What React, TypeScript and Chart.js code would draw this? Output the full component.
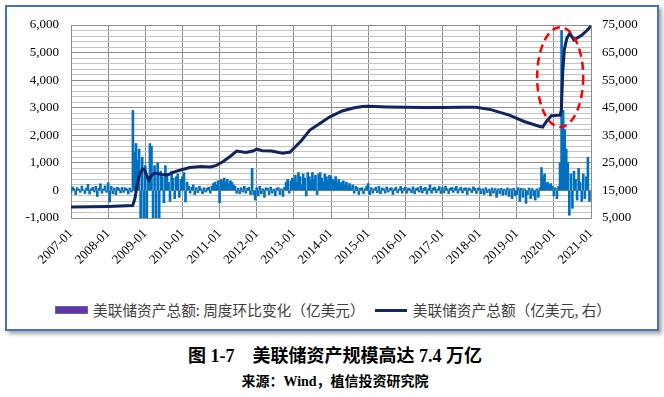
import React, { useEffect, useRef } from 'react';
import { Chart, registerables } from 'chart.js';

Chart.register(...registerables);

// ---- Data ----
const xTickLabels = ['2007-01', '2008-01', '2009-01', '2010-01', '2011-01', '2012-01', '2013-01', '2014-01', '2015-01', '2016-01', '2017-01', '2018-01', '2019-01', '2020-01', '2021-01'];
const startYear = 2007;
const periodsPerYear = 24; // half-month sampling of the weekly change bars

// Weekly change of Fed total assets (亿美元), read per half month
const bars2007 = [-90, 130, 60, -150, 100, 40, -70, 160, 30, -110, 90, 220, -130, 60, 110, -60, 150, -220, 80, 240, -100, 60, 170, -70];
const bars2008 = [280, -420, 150, -120, 90, -160, 120, 70, -90, 110, -70, 100, 60, -130, 90, -60, 2900, 1400, 1700, 1100, 1500, -1000, 1200, -1000];
const bars2009 = [900, -1000, 500, 1700, 1600, -1000, 900, -1000, 1000, -1000, 700, 500, -450, 900, 600, 300, -400, 700, 450, -300, 500, 600, -250, 400];
const bars2010 = [500, 650, -420, 300, 150, -100, 120, 200, -150, 100, -80, 150, 60, -120, 100, -60, 80, 120, -100, 150, 250, 300, 200, 350];
const bars2011 = [-450, 400, 350, 450, 300, 400, 250, 350, 300, 200, 150, -100, 80, -120, 100, -60, 150, -100, 80, 120, -150, 800, -150, -350];
const bars2012 = [100, -200, 150, -120, 60, -250, 100, 80, -150, 120, -100, 50, -200, 80, 100, -150, 60, -220, 120, 300, 400, -100, 350, 450];
const bars2013 = [400, 550, 300, 650, 500, 200, 600, 450, -200, 650, 500, 350, 650, 400, 550, -150, 600, 650, 450, 300, 600, 500, 400, 550];
const bars2014 = [500, 400, 350, 500, 300, 400, 250, 300, 350, 200, 300, 150, 250, 100, 200, -100, 150, 100, -150, 80, 100, -120, 60, 150];
const bars2015 = [250, -150, 100, -100, 60, 120, -80, 150, -120, 90, 60, -100, 130, -60, 80, 100, -150, 60, 120, -90, 50, 150, -100, 80];
const bars2016 = [120, -100, 90, 60, -80, 130, -120, 70, 100, -60, 150, -90, 80, 110, -130, 60, 200, -100, 90, 120, -80, 60, 140, -110];
const bars2017 = [100, -90, 150, 60, -120, 80, 110, -70, 90, 150, -100, 60, 120, -90, 70, 100, -150, 90, 60, -80, 130, 70, -110, 90];
const bars2018 = [80, -120, 60, -150, 100, -80, 50, -200, 90, -100, 70, -250, 60, -120, 80, -180, 50, -150, 90, -220, 60, -300, 80, -200];
const bars2019 = [-150, 100, -400, 80, -250, 60, -470, -150, 90, -300, 70, -200, -350, 60, -250, 100, 830, 500, 600, 250, 300, 200, 250, 150];
const bars2020 = [-200, 100, -300, 150, 1000, 5800, 2900, 2200, 1500, 1000, -900, 600, -650, 700, 400, -350, 800, 300, -400, 600, -300, 500, 1200, -400];

// Fed total assets (亿美元, right axis)
const lineDates = [2007.0, 2007.5, 2008.0, 2008.5, 2008.66, 2008.72, 2008.78, 2008.85, 2008.93, 2008.98, 2009.05, 2009.1, 2009.17, 2009.25, 2009.45, 2009.6, 2009.8, 2010.0, 2010.2, 2010.5, 2010.75, 2010.9, 2011.1, 2011.3, 2011.46, 2011.7, 2011.9, 2012.0, 2012.15, 2012.4, 2012.7, 2012.9, 2013.0, 2013.2, 2013.43, 2013.7, 2013.96, 2014.3, 2014.6, 2014.85, 2015.0, 2015.5, 2016.0, 2016.5, 2017.0, 2017.5, 2017.9, 2018.3, 2018.8, 2019.2, 2019.6, 2019.7, 2019.8, 2019.93, 2020.17, 2020.2, 2020.24, 2020.28, 2020.35, 2020.43, 2020.54, 2020.75, 2020.89, 2021.0];
const lineValues = [9000, 9100, 9200, 9400, 9500, 12000, 17000, 21000, 22800, 22500, 20000, 18800, 20500, 21300, 20800, 20600, 21800, 22600, 23300, 23700, 23500, 24000, 25500, 27500, 29300, 28800, 29300, 30000, 29400, 29300, 28500, 28900, 30300, 33000, 36900, 39300, 41600, 43800, 44900, 45400, 45500, 45300, 45200, 45100, 45100, 45200, 45200, 44300, 42300, 40000, 38300, 38000, 40000, 42100, 42300, 44000, 58000, 66000, 70200, 72000, 69600, 71300, 73000, 74600];

const barLabel = '美联储资产总额: 周度环比变化（亿美元）';
const lineLabel = '美联储资产总额（亿美元, 右）';

// Callout ellipse in data units (x: year, y: right axis)
const calloutX = 2020.17;
const calloutY = 56100;
const calloutRX = 0.62;
const calloutRY = 18100;

const allBars = [
  ...bars2007, ...bars2008, ...bars2009, ...bars2010, ...bars2011, ...bars2012, ...bars2013,
  ...bars2014, ...bars2015, ...bars2016, ...bars2017, ...bars2018, ...bars2019, ...bars2020,
];

const ellipsePlugin = {
  id: 'calloutEllipse',
  afterDatasetsDraw(chart: any) {
    const { ctx, scales } = chart;
    const x = scales.x;
    const y1 = scales.y1;
    const cx = x.getPixelForValue(calloutX);
    const cy = y1.getPixelForValue(calloutY);
    const rx = Math.abs(x.getPixelForValue(calloutX + calloutRX) - cx);
    const ry = Math.abs(y1.getPixelForValue(calloutY + calloutRY) - cy);
    ctx.save();
    ctx.strokeStyle = '#FF0000';
    ctx.lineWidth = 2.5;
    ctx.setLineDash([8, 5]);
    ctx.beginPath();
    ctx.ellipse(cx, cy, rx, ry, 0, 0, Math.PI * 2);
    ctx.stroke();
    ctx.restore();
  },
};

const tickFont = { family: '"Liberation Serif", "Times New Roman", serif', size: 13 };

export default function App() {
  const ref = useRef<HTMLCanvasElement>(null);

  useEffect(() => {
    const barPts = allBars.map((v, i) => ({ x: startYear + i / periodsPerYear, y: v }));
    const linePts = lineDates.map((d, i) => ({ x: d, y: lineValues[i] }));
    const chart = new Chart(ref.current as HTMLCanvasElement, {
      type: 'bar',
      data: {
        datasets: [
          {
            type: 'line',
            label: lineLabel,
            data: linePts,
            yAxisID: 'y1',
            borderColor: '#0f2460',
            backgroundColor: '#0f2460',
            borderWidth: 3,
            pointRadius: 0,
            tension: 0,
            order: 0,
          } as any,
          {
            type: 'bar',
            label: barLabel,
            data: barPts,
            yAxisID: 'y',
            backgroundColor: '#0070C0',
            barThickness: 2,
            order: 1,
          } as any,
        ],
      },
      options: {
        responsive: false,
        animation: false,
        layout: { padding: { top: 25, left: 0, right: 0, bottom: 0 } },
        plugins: { legend: { display: false }, tooltip: { enabled: false } },
        scales: {
          x: {
            type: 'linear',
            min: 2007,
            max: 2021,
            offset: false,
            grid: { offset: false, color: '#8c8c8c', drawTicks: false },
            border: { color: '#8c8c8c' },
            ticks: {
              stepSize: 1,
              autoSkip: false,
              minRotation: 45,
              maxRotation: 45,
              padding: 8,
              color: '#000',
              font: tickFont,
              callback: (_v: any, idx: number) => xTickLabels[idx],
            },
            afterFit: (s: any) => { s.height = 72; },
          },
          y: {
            position: 'left',
            min: -1000,
            max: 6000,
            grid: {
              drawTicks: false,
              color: (c: any) => (Math.round(c.tick.value) % 1000 === 0 ? '#8c8c8c' : '#c4c4c4'),
            },
            border: { color: '#8c8c8c' },
            ticks: {
              stepSize: 200,
              autoSkip: false,
              padding: 12,
              color: '#000',
              font: tickFont,
              callback: (v: any) => {
                const n = Math.round(Number(v));
                return n % 1000 === 0 ? n.toLocaleString('en-US') : '';
              },
            },
            afterFit: (s: any) => { s.width = 71; },
          },
          y1: {
            position: 'right',
            min: 5000,
            max: 75000,
            grid: { display: false, drawTicks: false },
            border: { display: false },
            ticks: {
              stepSize: 10000,
              padding: 11,
              color: '#000',
              font: tickFont,
              callback: (v: any) => Math.round(Number(v)).toLocaleString('en-US'),
            },
            afterFit: (s: any) => { s.width = 73; },
          },
        },
      } as any,
      plugins: [ellipsePlugin],
    });
    return () => chart.destroy();
  }, []);

  const legendText: React.CSSProperties = {
    fontFamily: '"Noto Sans CJK SC", "Noto Sans", sans-serif',
    fontSize: 14.7,
    color: '#404040',
    lineHeight: '16px',
    whiteSpace: 'nowrap',
  };

  return (
    <div style={{ position: 'absolute', left: 0, top: 0, width: 664, height: 397, background: '#fff', overflow: 'hidden' }}>
      <div
        style={{
          position: 'absolute', left: 5, top: 5, width: 654, height: 326, boxSizing: 'border-box',
          border: '2px solid #4472C4', boxShadow: '3px 3px 4px rgba(0,0,0,0.35)', background: '#fff',
        }}
      />
      <canvas ref={ref} width={664} height={290} style={{ position: 'absolute', left: 0, top: 0, width: 664, height: 290 }} />
      <div style={{ position: 'absolute', left: 55, top: 302, display: 'flex', alignItems: 'center' }}>
        <span style={{ display: 'inline-block', width: 33, height: 8, background: '#7030A0', border: '1px solid #4472C4', boxSizing: 'border-box', marginRight: 5 }} />
        <span style={legendText}>{barLabel}</span>
        <span style={{ display: 'inline-block', width: 32, height: 3, background: '#0f2460', marginLeft: 10, marginRight: 6 }} />
        <span style={legendText}>{lineLabel}</span>
      </div>
      <div
        style={{
          position: 'absolute', left: 3, top: 345, width: 664, textAlign: 'center', lineHeight: '22px',
          fontFamily: '"Liberation Serif", "Noto Sans CJK SC", serif', fontWeight: 'bold', fontSize: 18, color: '#000', whiteSpace: 'pre',
        }}
      >
        {'图 1-7    美联储资产规模高达 7.4 万亿'}
      </div>
      <div
        style={{
          position: 'absolute', left: 3, top: 373, width: 664, textAlign: 'center', lineHeight: '17px',
          fontFamily: '"Liberation Serif", "Noto Sans CJK SC", serif', fontWeight: 'bold', fontSize: 14, color: '#000', whiteSpace: 'pre',
        }}
      >
        {'来源：Wind，植信投资研究院'}
      </div>
    </div>
  );
}
